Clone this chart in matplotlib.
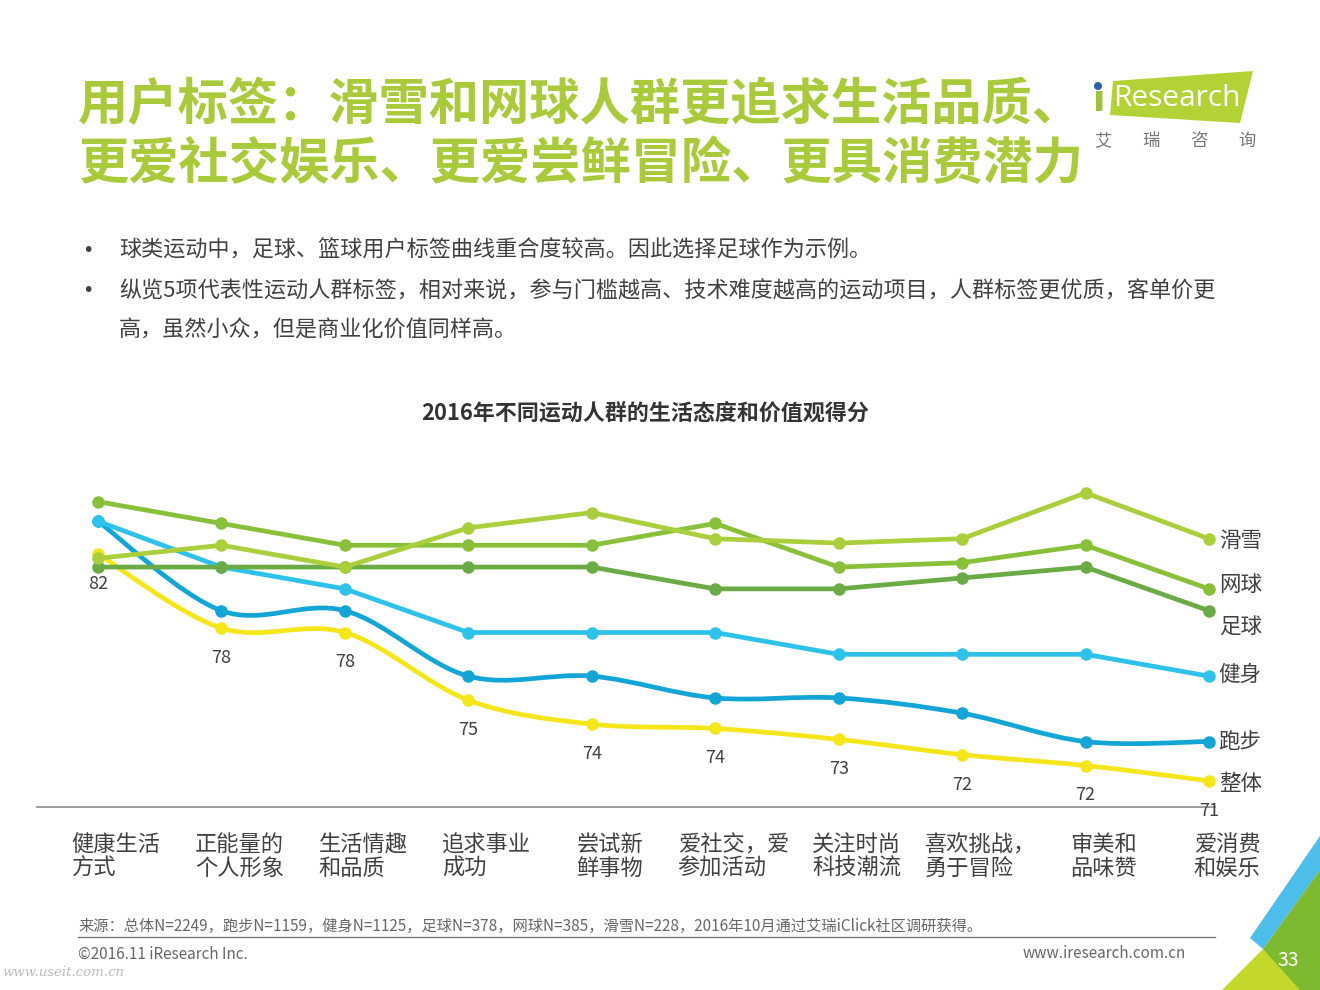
import numpy as np
import matplotlib
matplotlib.use("Agg")
import matplotlib.pyplot as plt
from matplotlib.path import Path
from matplotlib.patches import PathPatch, Polygon, Circle

plt.rcParams['font.family'] = ['Noto Sans CJK SC', 'DejaVu Sans']

# 数据
categories = ["健康生活\n方式", "正能量的\n个人形象", "生活情趣\n和品质", "追求事业\n成功",
              "尝试新\n鲜事物", "爱社交，爱\n参加活动", "关注时尚\n科技潮流",
              "喜欢挑战，\n勇于冒险", "审美和\n品味赞", "爱消费\n和娱乐"]
overall = [81.6, 78.2, 78.0, 74.9, 73.8, 73.6, 73.1, 72.4, 71.9, 71.2]
running = [83.1, 79.0, 79.0, 76.0, 76.0, 75.0, 75.0, 74.3, 73.0, 73.0]
fitness = [83.1, 81.0, 80.0, 78.0, 78.0, 78.0, 77.0, 77.0, 77.0, 76.0]
football = [81.0, 81.0, 81.0, 81.0, 81.0, 80.0, 80.0, 80.5, 81.0, 79.0]
tennis = [84.0, 83.0, 82.0, 82.0, 82.0, 83.0, 81.0, 81.2, 82.0, 80.0]
skiing = [81.4, 82.0, 81.0, 82.8, 83.5, 82.3, 82.1, 82.3, 84.4, 82.3]

# 样式 (从下到上绘制)
series = [
    ("整体", overall, "#F5E61A", True, -2),
    ("跑步", running, "#13A5D6", True, 0),
    ("健身", fitness, "#2EC2EA", False, 1),
    ("足球", football, "#6AAB45", False, -12),
    ("网球", tennis, "#88C03A", False, 3),
    ("滑雪", skiing, "#AACE3C", False, -1.5),
]

TEXT = "#404040"
GREEN = "#A9CB3B"


def smooth_path(xs, ys):
    pts = np.column_stack([xs, ys]).astype(float)
    n = len(pts)
    verts = [pts[0]]
    codes = [Path.MOVETO]
    for i in range(n - 1):
        p0 = pts[max(i - 1, 0)]
        p1 = pts[i]
        p2 = pts[i + 1]
        p3 = pts[min(i + 2, n - 1)]
        verts += [p1 + (p2 - p0) / 6, p2 - (p3 - p1) / 6, p2]
        codes += [Path.CURVE4] * 3
    return Path(verts, codes)


fig = plt.figure(figsize=(13.2, 9.9), dpi=100)

# 背景层 (像素坐标)
bg = fig.add_axes([0, 0, 1, 1])
bg.set_xlim(0, 1320)
bg.set_ylim(990, 0)
bg.axis('off')

# 标题
bg.text(78, 105, "用户标签：滑雪和网球人群更追求生活品质、", fontsize=36.2, fontweight='bold',
        color=GREEN, va='center', ha='left')
bg.text(78, 165, "更爱社交娱乐、更爱尝鲜冒险、更具消费潜力", fontsize=36.2, fontweight='bold',
        color=GREEN, va='center', ha='left')

# logo
bg.add_patch(Polygon([(1113, 81), (1253, 71), (1240, 123), (1110, 115)], closed=True,
                     color="#B3D236", lw=0))
bg.text(1093, 101, "ı", fontsize=26, color="#9CC43A", va='center', ha='left',
        family='DejaVu Sans', fontweight='bold')
bg.add_patch(Circle((1098, 86), 4, color="#2A5EA8", lw=0))
bg.text(1113, 99, "Research", fontsize=21.5, color="white", va='center', ha='left',
        family='Open Sans')
for k, ch in enumerate("艾瑞咨询"):
    bg.text(1103 + k * 48, 141, ch, fontsize=12.5, color="#777777", va='center', ha='center')

# 要点
bullets = ["球类运动中，足球、篮球用户标签曲线重合度较高。因此选择足球作为示例。",
           "纵览5项代表性运动人群标签，相对来说，参与门槛越高、技术难度越高的运动项目，人群标签更优质，客单价更",
           "高，虽然小众，但是商业化价值同样高。"]
for yy, s, dot in zip([251, 291, 331], bullets, [True, True, False]):
    if dot:
        bg.text(82, yy, "•", fontsize=14, color=TEXT, va='center', ha='left', family='DejaVu Sans')
    bg.text(119, yy, s, fontsize=15.9, color=TEXT, va='center', ha='left')

# 图表标题
bg.text(645, 413, "2016年不同运动人群的生活态度和价值观得分", fontsize=15.8, fontweight='bold',
        color="#333333", va='center', ha='center')

# 页脚
bg.text(78, 926, "来源：总体N=2249，跑步N=1159，健身N=1125，足球N=378，网球N=385，滑雪N=228，"
        "2016年10月通过艾瑞iClick社区调研获得。", fontsize=11, color="#666666", va='center', ha='left')
bg.plot([78, 1215], [937, 937], color="#777777", lw=1)
bg.text(78, 954, "©2016.11 iResearch Inc.", fontsize=11, color="#666666", va='center', ha='left')
bg.text(1186, 954, "www.iresearch.com.cn", fontsize=11, color="#666666", va='center', ha='right')
bg.text(2, 972, "www.useit.com.cn", fontsize=9.5, color="#BBBBBB", va='center', ha='left',
        style='italic', family='DejaVu Serif')

# 右下角装饰
bg.add_patch(Polygon([(1250, 938), (1320, 836), (1320, 870), (1263, 949)], closed=True,
                     color="#4DBDE9", lw=0))
bg.add_patch(Polygon([(1263, 949), (1320, 870), (1320, 990), (1268, 990)], closed=True,
                     color="#7DBA2F", lw=0))
bg.add_patch(Polygon([(1222, 990), (1263, 949), (1300, 990)], closed=True,
                     color="#C4D72B", lw=0))
bg.text(1288, 960, "33", fontsize=14, color="white", va='center', ha='center')

# 折线图
ax = fig.add_axes([37 / 1320, 1 - 807 / 990, 1178 / 1320, 337 / 990])
ax.patch.set_alpha(0)
ax.set_xlim(-0.494, 9.049)
ax.set_ylim(70, 85.45)
for side in ['left', 'right', 'top']:
    ax.spines[side].set_visible(False)
ax.spines['bottom'].set_color("#8C8C8C")
ax.spines['bottom'].set_linewidth(1.2)
ax.set_xticks([])
ax.set_yticks([])

x = np.arange(len(categories))
for name, vals, color, smooth, dy in series:
    if smooth:
        ax.add_patch(PathPatch(smooth_path(x, vals), fill=False, edgecolor=color, lw=3.4,
                               capstyle='round', joinstyle='round', clip_on=False))
    else:
        ax.plot(x, vals, color=color, lw=3.4, solid_joinstyle='round', clip_on=False)
    ax.plot(x, vals, 'o', color=color, ms=8, clip_on=False)
    ax.annotate(name, xy=(x[-1], vals[-1]), xytext=(7, dy), textcoords='offset points',
                ha='left', va='center', fontsize=15.5, color=TEXT, annotation_clip=False)

for xi, v in zip(x, overall):
    ax.annotate(f"{v:.0f}", xy=(xi, v), xytext=(0, -21.5), textcoords='offset points',
                ha='center', va='center', fontsize=13, color=TEXT, annotation_clip=False)

for xi, c in zip(x, categories):
    ax.annotate(c, xy=(xi, 70), xytext=(13, -19), textcoords='offset points', ha='center',
                va='top', multialignment='left', fontsize=16, color=TEXT, linespacing=1.02,
                annotation_clip=False)

fig.savefig("out.png", dpi=100)
